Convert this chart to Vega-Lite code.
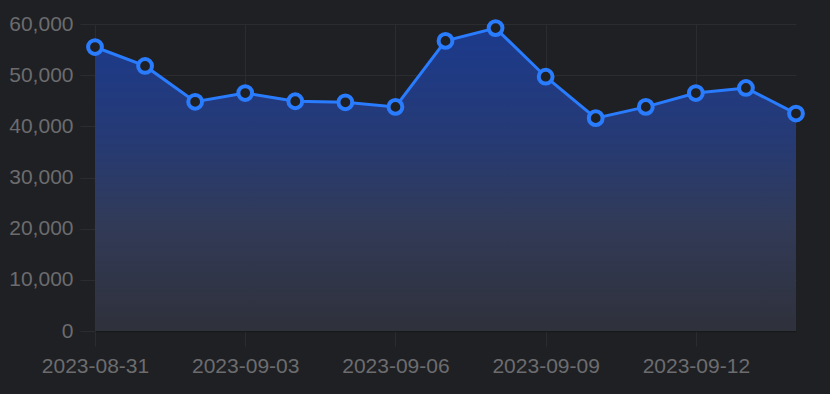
{
  "$schema": "https://vega.github.io/schema/vega-lite/v6.json",
  "autosize": "none",
  "width": 701,
  "height": 307,
  "padding": {"left": 95, "top": 24, "right": 34, "bottom": 63},
  "background": "#1f2023",
  "config": {
    "view": {"stroke": null},
    "font": "Liberation Sans",
    "axis": {
      "labelFont": "Liberation Sans",
      "labelFontSize": 21,
      "labelColor": "#6c6c6f",
      "gridColor": "#2b2c30",
      "tickColor": "#2b2c30",
      "domain": false,
      "title": null
    }
  },
  "data": {
    "values": [
      {"date": "2023-08-31", "value": 55500},
      {"date": "2023-09-01", "value": 51800},
      {"date": "2023-09-02", "value": 44800},
      {"date": "2023-09-03", "value": 46500},
      {"date": "2023-09-04", "value": 44900},
      {"date": "2023-09-05", "value": 44700},
      {"date": "2023-09-06", "value": 43800},
      {"date": "2023-09-07", "value": 56700},
      {"date": "2023-09-08", "value": 59200},
      {"date": "2023-09-09", "value": 49700},
      {"date": "2023-09-10", "value": 41600},
      {"date": "2023-09-11", "value": 43800},
      {"date": "2023-09-12", "value": 46500},
      {"date": "2023-09-13", "value": 47500},
      {"date": "2023-09-14", "value": 42500}
    ]
  },
  "encoding": {
    "x": {
      "field": "date",
      "type": "temporal",
      "scale": {"type": "utc", "nice": false},
      "axis": {
        "values": [
          {"year": 2023, "month": 8, "date": 31, "utc": true},
          {"year": 2023, "month": 9, "date": 3, "utc": true},
          {"year": 2023, "month": 9, "date": 6, "utc": true},
          {"year": 2023, "month": 9, "date": 9, "utc": true},
          {"year": 2023, "month": 9, "date": 12, "utc": true}
        ],
        "labelExpr": "utcFormat(datum.value, '%Y-%m-%d')",
        "tickSize": 15,
        "labelPadding": 9,
        "labelFlush": false,
        "labelOverlap": false,
        "domain": true,
        "domainColor": "#18191b",
        "domainWidth": 1.5
      }
    },
    "y": {
      "field": "value",
      "type": "quantitative",
      "scale": {"domain": [0, 60000], "nice": false},
      "axis": {
        "values": [0, 10000, 20000, 30000, 40000, 50000, 60000],
        "format": ",d",
        "tickSize": 15,
        "labelPadding": 7
      }
    }
  },
  "layer": [
    {
      "mark": {
        "type": "area",
        "line": false,
        "color": {
          "gradient": "linear",
          "x1": 0, "y1": 0, "x2": 0, "y2": 1,
          "stops": [
            {"offset": 0, "color": "#1c3a8c"},
            {"offset": 0.35, "color": "#253a76"},
            {"offset": 0.65, "color": "#313a57"},
            {"offset": 1, "color": "#2f313b"}
          ]
        }
      }
    },
    {
      "mark": {"type": "line", "color": "#2a7cff", "strokeWidth": 3}
    },
    {
      "mark": {
        "type": "point",
        "filled": true,
        "fill": "#1f2023",
        "stroke": "#2a7cff",
        "strokeWidth": 4,
        "size": 190,
        "opacity": 1
      }
    }
  ]
}
